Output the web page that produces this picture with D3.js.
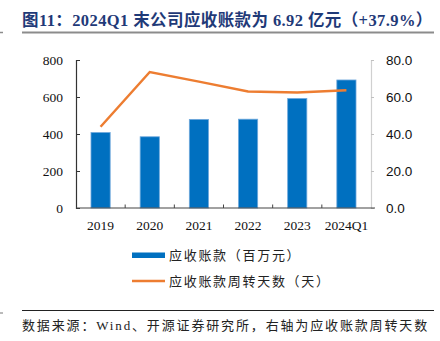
<!DOCTYPE html>
<html><head><meta charset="utf-8">
<script src="https://cdn.jsdelivr.net/npm/d3@7"></script>
<style>
body{margin:0;background:#fff;}
svg{display:block;}
</style></head>
<body><svg id="c" width="440" height="341"></svg>
<script>
const categories = ["2019","2020","2021","2022","2023","2024Q1"];
const receivables = [408, 385, 479, 480, 592, 692];
const turnoverDays = [43.9, 73.5, 68.3, 63.0, 62.5, 63.7];
const leftTicks = [0, 200, 400, 600, 800];
const rightTicks = [0, 20, 40, 60, 80];
const titleText = "图11：2024Q1 末公司应收账款为 6.92 亿元（+37.9%）";
const legendLabels = ["应收账款（百万元）", "应收账款周转天数（天）"];
const sourceText = "数据来源：Wind、开源证券研究所，右轴为应收账款周转天数";

const svg = d3.select("#c");
const serif = "'Liberation Serif','Times New Roman','Noto Sans CJK SC',serif";
const cjk = "'Liberation Serif','Noto Sans CJK SC',serif";
const m = {l: 76, r: 371, t: 60, b: 208};

// title
svg.append("text").attr("x", 22).attr("y", 26)
  .attr("font-family", serif).attr("font-weight", "bold").attr("font-size", 16.5)
  .attr("fill", "#1f3a78").attr("letter-spacing", 0.4).text(titleText);
svg.append("line").attr("x1", 22).attr("x2", 434).attr("y1", 32.5).attr("y2", 32.5)
  .attr("stroke", "#8c8c8c").attr("stroke-width", 2);
svg.append("line").attr("x1", 0).attr("x2", 3).attr("y1", 32.5).attr("y2", 32.5)
  .attr("stroke", "#8c8c8c").attr("stroke-width", 1.5);

const x = d3.scaleBand().domain(categories).range([m.l, m.r]).paddingInner(0).paddingOuter(0);
const yL = d3.scaleLinear().domain([0, 800]).range([m.b, m.t]);
const yR = d3.scaleLinear().domain([0, 80]).range([m.b, m.t]);

// bars
const bw = x.bandwidth() * 0.39;
svg.append("g").selectAll("rect").data(categories).join("rect")
  .attr("x", d => x(d) + x.bandwidth()/2 - bw/2)
  .attr("y", (d,i) => yL(receivables[i]))
  .attr("width", bw)
  .attr("height", (d,i) => m.b - yL(receivables[i]))
  .attr("fill", "#0070c0").attr("stroke", "#6fa8dc").attr("stroke-width", 0.8);

// left axis
const gl = svg.append("g").attr("transform", `translate(${m.l},0)`)
  .call(d3.axisLeft(yL).tickValues(leftTicks).tickSize(-4).tickPadding(13).tickFormat(d3.format("d")));
gl.select(".domain").attr("stroke", "#333").attr("stroke-width", 1.2);
gl.selectAll(".tick line").attr("stroke", "#333");
gl.selectAll(".tick text").attr("font-family", serif).attr("font-size", 13.5).attr("fill", "#111");

// right axis
const gr = svg.append("g").attr("transform", `translate(${m.r},0)`)
  .call(d3.axisRight(yR).tickValues(rightTicks).tickSize(3).tickPadding(12).tickFormat(d3.format(".1f")));
gr.select(".domain").attr("stroke", "#d0d0d0").attr("stroke-width", 1.2);
gr.selectAll(".tick line").attr("stroke", "#c0c0c0");
gr.selectAll(".tick text").attr("font-family", "'Liberation Sans',Arial,sans-serif").attr("font-size", 13.5).attr("fill", "#111");

// bottom axis
const gb = svg.append("g").attr("transform", `translate(0,${m.b})`);
gb.append("line").attr("x1", m.l).attr("x2", m.r + 4).attr("stroke", "#444").attr("stroke-width", 1.2);
gb.selectAll("line.tk").data(categories.slice(1)).join("line").attr("class", "tk")
  .attr("x1", d => x(d)).attr("x2", d => x(d)).attr("y1", 0).attr("y2", -3.5)
  .attr("stroke", "#444");
gb.selectAll("text").data(categories).join("text")
  .attr("x", d => x(d) + x.bandwidth()/2).attr("y", 22)
  .attr("text-anchor", "middle").attr("font-family", serif).attr("font-size", 13.5).attr("fill", "#111")
  .text(d => d);

// line
const line = d3.line().x((d,i) => x(categories[i]) + x.bandwidth()/2).y(d => yR(d));
svg.append("path").datum(turnoverDays).attr("d", line)
  .attr("fill", "none").attr("stroke", "#ed7d31").attr("stroke-width", 2.5);

// legend
const lg = svg.append("g");
lg.append("rect").attr("x", 132).attr("y", 252.5).attr("width", 33).attr("height", 5.5).attr("fill", "#0070c0");
lg.append("line").attr("x1", 132).attr("x2", 165).attr("y1", 281).attr("y2", 281).attr("stroke", "#ed7d31").attr("stroke-width", 2.5);
lg.selectAll("text").data(legendLabels).join("text")
  .attr("x", 169).attr("y", (d,i) => 260 + i*26)
  .attr("font-family", cjk).attr("font-size", 13).attr("fill", "#222").attr("letter-spacing", 1.7)
  .text(d => d);

// source
svg.append("line").attr("x1", 22).attr("x2", 434).attr("y1", 310.5).attr("y2", 310.5)
  .attr("stroke", "#222").attr("stroke-width", 1);
svg.append("line").attr("x1", 0).attr("x2", 3).attr("y1", 313).attr("y2", 313)
  .attr("stroke", "#777").attr("stroke-width", 1);
svg.append("text").attr("x", 22).attr("y", 330)
  .attr("font-family", cjk).attr("font-size", 13).attr("fill", "#222").attr("letter-spacing", 1.85)
  .text(sourceText);
</script></body></html>
